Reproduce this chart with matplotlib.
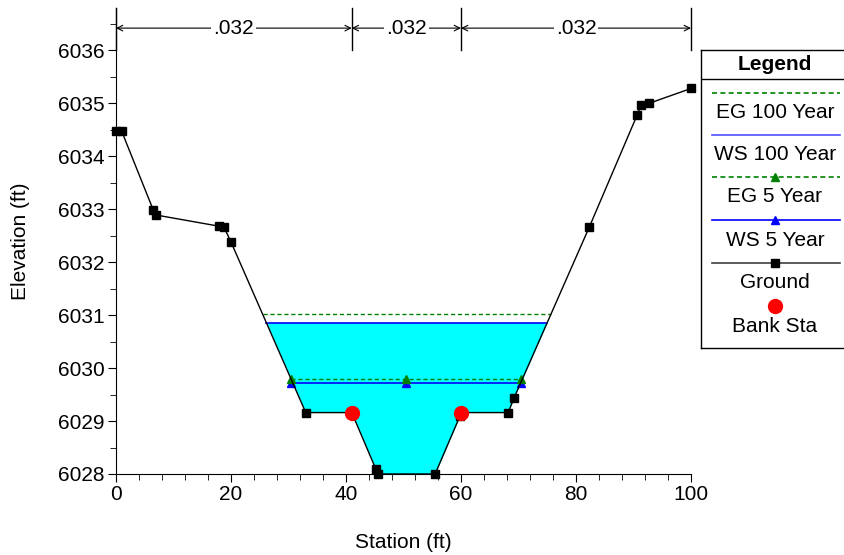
import numpy as np
import matplotlib
matplotlib.use("Agg")
import matplotlib.pyplot as plt
from matplotlib.ticker import MultipleLocator

plt.rcParams['font.family'] = ['Liberation Sans', 'DejaVu Sans']

# Data
ground_x = [0.0, 1.0, 6.5, 7.0, 17.9, 18.8, 20.0, 33.0, 41.0, 45.2, 45.5, 55.5, 59.8, 60.0, 68.2, 69.2, 82.3, 90.6, 91.3, 92.7, 100.0]
ground_y = [6034.47, 6034.47, 6032.98, 6032.89, 6032.68, 6032.66, 6032.38, 6029.16, 6029.16, 6028.09, 6028.0, 6028.0, 6029.09, 6029.16, 6029.16, 6029.43, 6032.66, 6034.77, 6034.96, 6035.0, 6035.28]
ground_marker_x = [0.0, 1.0, 6.5, 7.0, 17.9, 18.8, 20.0, 33.0, 45.2, 45.5, 55.5, 59.8, 68.2, 69.2, 82.3, 90.6, 91.3, 92.7, 100.0]
bank_sta_x = [41.0, 60.0]
bank_sta_y = [6029.16, 6029.16]
eg100 = 6031.02
ws100 = 6030.86
eg5 = 6029.80
ws5 = 6029.72
marker_x_5yr = [30.4, 50.4, 70.4]
n_bounds = [0, 41, 60, 100]
n_values = [".032", ".032", ".032"]

gx = np.array(ground_x)
gy = np.array(ground_y)

FS = 15

def crossings(level):
    xs = []
    for i in range(len(gx) - 1):
        y0, y1 = gy[i], gy[i + 1]
        if (y0 - level) * (y1 - level) < 0:
            t = (level - y0) / (y1 - y0)
            xs.append(gx[i] + t * (gx[i + 1] - gx[i]))
    return min(xs), max(xs)

fig = plt.figure(figsize=(8.45, 5.55), dpi=100)
ax = fig.add_axes([116/845, 1 - 474/555, (691-116)/845, (474-8)/555])

# water fill
xd = np.linspace(0, 100, 4001)
gd = np.interp(xd, gx, gy)
ax.fill_between(xd, gd, ws100, where=gd < ws100, color='#00FFFF', linewidth=0, zorder=1)

# lines
l, r = crossings(eg100)
ax.plot([l, r], [eg100, eg100], color='#008000', ls=(0, (3, 2)), lw=1, zorder=3)
l, r = crossings(ws100)
ax.plot([l, r], [ws100, ws100], color='#0000FF', lw=1.2, zorder=3)
l, r = crossings(eg5)
ax.plot([l, r], [eg5, eg5], color='#008000', ls=(0, (3, 2)), lw=1, zorder=3)
ax.plot(marker_x_5yr, [eg5]*3, ls='none', marker='^', color='#008000', ms=6, zorder=5)
l, r = crossings(ws5)
ax.plot([l, r], [ws5, ws5], color='#0000FF', lw=1.2, zorder=3)
ax.plot(marker_x_5yr, [ws5]*3, ls='none', marker='^', color='#0000FF', ms=6, zorder=4)

ax.plot(gx, gy, color='black', lw=1, zorder=6)
ax.plot(ground_marker_x, np.interp(ground_marker_x, gx, gy), ls='none', marker='s',
        color='black', ms=6, zorder=7, clip_on=False)
ax.plot(bank_sta_x, bank_sta_y, ls='none', marker='o', color='red', ms=10, zorder=8)

ax.set_xlim(0, 100)
ax.set_ylim(6028, 6036.8)
ax.spines['top'].set_visible(False)
ax.spines['right'].set_visible(False)
ax.xaxis.set_major_locator(MultipleLocator(20))
ax.xaxis.set_minor_locator(MultipleLocator(4))
ax.yaxis.set_major_locator(MultipleLocator(1))
ax.yaxis.set_minor_locator(MultipleLocator(0.5))
ax.tick_params(which='major', length=6, labelsize=FS, color='black', pad=2)
ax.tick_params(which='minor', length=4)
ax.set_xlabel('Station (ft)', fontsize=FS, labelpad=21)
ax.set_ylabel('Elevation (ft)', fontsize=FS, labelpad=20)
ax.yaxis.set_major_formatter(matplotlib.ticker.FormatStrFormatter('%d'))

# Manning's n annotations
ya = 6036.42
for xb in n_bounds:
    ax.plot([xb, xb], [6036.0, 6036.8], color='black', lw=1, clip_on=False, zorder=9)
for i, txt in enumerate(n_values):
    a, b = n_bounds[i], n_bounds[i + 1]
    mid = (a + b) / 2
    ax.annotate('', xy=(a, ya), xytext=(mid, ya),
                arrowprops=dict(arrowstyle='->', color='black', lw=0.8, shrinkA=0, shrinkB=0))
    ax.annotate('', xy=(b, ya), xytext=(mid, ya),
                arrowprops=dict(arrowstyle='->', color='black', lw=0.8, shrinkA=0, shrinkB=0))
    ax.text(mid, ya, txt, ha='center', va='center', fontsize=FS,
            bbox=dict(facecolor='white', edgecolor='none', pad=1.5), zorder=10)

# Legend box
lx0, ly0, lw_, lh = 701/845, 1 - 348/555, 144/845, 298/555
lax = fig.add_axes([lx0, ly0, lw_, lh])
lax.set_xlim(0, 144)
lax.set_ylim(298, 0)
lax.set_xticks([]); lax.set_yticks([])
for s in lax.spines.values():
    s.set_linewidth(1)
lax.text(74, 14, 'Legend', ha='center', va='center', fontsize=FS, fontweight='bold')
lax.plot([0, 144], [29, 29], color='black', lw=1)
entries = [
    ('EG 100 Year', '#008000', (0, (3, 2)), None),
    ('WS 100 Year', '#5050FF', '-', None),
    ('EG 5 Year', '#008000', (0, (3, 2)), '^'),
    ('WS 5 Year', '#0000FF', '-', '^'),
    ('Ground', '#404040', '-', 's'),
]
y_line = [43, 85, 127, 170, 213]
for (lab, c, ls, mk), yl in zip(entries, y_line):
    lax.plot([11, 139], [yl, yl], color=c, ls=ls, lw=1.2)
    if mk:
        lax.plot([74], [yl], marker=mk, color='black' if mk == 's' else c, ms=6, ls='none')
    lax.text(74, yl + 20, lab, ha='center', va='center', fontsize=FS)
lax.plot([74], [256], marker='o', color='red', ms=10, ls='none')
lax.text(74, 276, 'Bank Sta', ha='center', va='center', fontsize=FS)

fig.savefig('out.png', dpi=100)
